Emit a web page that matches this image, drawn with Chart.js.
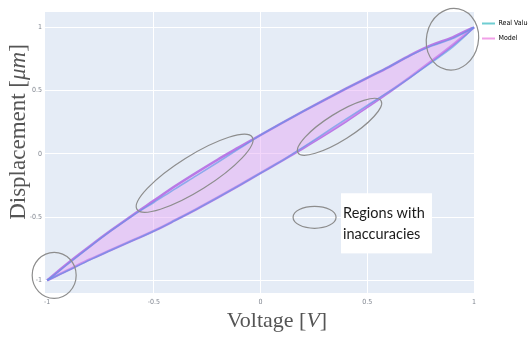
<!DOCTYPE html>
<html lang="en">

<head>
    <meta charset="UTF-8">
    <script src="https://cdn.jsdelivr.net/npm/chart.js"></script>
    <title>Voltage / Displacement</title>
    <style>
        body { margin: 0; background: #fff; overflow: hidden; }
    </style>
</head>

<body>
    <canvas id="histerese" width="528" height="342"></canvas>
</body>

</html>
<script>
    // sampled voltage and the two branches of the loop (rising = lower, falling = upper)
    const voltage = [-1, -0.95, -0.9, -0.8, -0.7, -0.6, -0.5, -0.4, -0.3, -0.2, -0.1, 0, 0.1, 0.2, 0.3, 0.4, 0.5, 0.6, 0.7, 0.8, 0.9, 0.95, 1];
    const realLower = [-1, -0.96, -0.92, -0.838, -0.76, -0.685, -0.61, -0.525, -0.437, -0.345, -0.25, -0.152, -0.055, 0.053, 0.163, 0.273, 0.382, 0.488, 0.602, 0.72, 0.842, 0.916, 1];
    const realUpper = [-1, -0.935, -0.868, -0.735, -0.608, -0.49, -0.385, -0.277, -0.173, -0.067, 0.04, 0.148, 0.243, 0.336, 0.426, 0.514, 0.6, 0.685, 0.775, 0.85, 0.91, 0.952, 1];
    const modelLower = [-1, -0.958, -0.918, -0.835, -0.76, -0.685, -0.61, -0.525, -0.437, -0.345, -0.25, -0.152, -0.055, 0.045, 0.148, 0.255, 0.37, 0.485, 0.605, 0.73, 0.86, 0.928, 1];
    const modelUpper = [-1, -0.93, -0.86, -0.73, -0.605, -0.485, -0.37, -0.255, -0.148, -0.045, 0.052, 0.148, 0.243, 0.336, 0.426, 0.514, 0.6, 0.685, 0.778, 0.858, 0.92, 0.96, 1];
    const xTicks = [-1, -0.5, 0, 0.5, 1];
    const yTicks = [-1, -0.5, 0, 0.5, 1];

    const corReal = 'rgba(95,150,230,0.65)';
    const corModelo = 'rgba(180,110,228,0.9)';

    // circled regions (centre in data units, radii in px)
    const regioes = [
        { x: 0.899, y: 0.905, rx: 26, ry: 31, rot: 0.2 },
        { x: -0.967, y: -0.96, rx: 22, ry: 23, rot: 0 },
        { x: -0.309, y: -0.154, rx: 68, ry: 17.5, rot: -0.56 },
        { x: 0.37, y: 0.213, rx: 49, ry: 13.5, rot: -0.56 },
        { x: 0.253, y: -0.502, rx: 21.5, ry: 11, rot: 0 }
    ];

    function pontos(ys) {
        return voltage.map((v, i) => ({ x: v, y: ys[i] }));
    }

    function textoMisto(ctx, partes, x, y) {
        let total = 0;
        partes.forEach(p => { ctx.font = p.font; total += ctx.measureText(p.t).width; });
        let cx = x - total / 2;
        partes.forEach(p => {
            ctx.font = p.font;
            ctx.fillText(p.t, cx, y);
            cx += ctx.measureText(p.t).width;
        });
    }

    const fundo = {
        id: 'fundo',
        beforeDraw(chart) {
            const { ctx, chartArea: a } = chart;
            ctx.save();
            ctx.fillStyle = '#e5ecf6';
            ctx.fillRect(a.left, a.top, a.right - a.left, a.bottom - a.top);
            ctx.restore();
        }
    };

    const anotacoes = {
        id: 'anotacoes',
        afterDraw(chart) {
            const { ctx } = chart;
            const sx = chart.scales.x, sy = chart.scales.y;
            ctx.save();
            ctx.strokeStyle = '#8d8d8d';
            ctx.lineWidth = 1.2;
            regioes.forEach(r => {
                ctx.beginPath();
                ctx.ellipse(sx.getPixelForValue(r.x), sy.getPixelForValue(r.y), r.rx, r.ry, r.rot, 0, Math.PI * 2);
                ctx.stroke();
            });

            // caixa de texto
            const l = sx.getPixelForValue(0.377), rgt = sx.getPixelForValue(0.803);
            const t = sy.getPixelForValue(-0.312), b = sy.getPixelForValue(-0.787);
            ctx.fillStyle = '#fff';
            ctx.fillRect(l, t, rgt - l, b - t);
            ctx.fillStyle = '#1a1a1a';
            ctx.font = '14.5px Lato, "Open Sans", sans-serif';
            ctx.textBaseline = 'alphabetic';
            ctx.fillText('Regions with', l + 2, t + 25);
            ctx.fillText('inaccuracies', l + 2, t + 46);

            // titulos dos eixos
            ctx.fillStyle = '#555';
            const serif = '"Liberation Serif", "DejaVu Serif", serif';
            textoMisto(ctx, [
                { t: 'Voltage [', font: `22px ${serif}` },
                { t: 'V', font: `italic 22px ${serif}` },
                { t: ']', font: `22px ${serif}` }
            ], 277, 327);
            ctx.translate(25, 132);
            ctx.rotate(-Math.PI / 2);
            textoMisto(ctx, [
                { t: 'Displacement [', font: `23px ${serif}` },
                { t: 'μm', font: `italic 23px ${serif}` },
                { t: ']', font: `23px ${serif}` }
            ], 0, 0);
            ctx.restore();
        }
    };

    Chart.defaults.font.family = '"Liberation Sans Narrow", "DejaVu Sans Condensed", "Roboto Condensed", sans-serif';

    const grafico = document.getElementById('histerese');
    new Chart(grafico, {
        type: 'line',
        data: {
            datasets: [{
                label: 'Real Values',
                data: pontos(realUpper),
                borderColor: corReal,
                borderWidth: 1.5
            }, {
                label: 'Real Values',
                data: pontos(realLower),
                borderColor: corReal,
                borderWidth: 1.5
            }, {
                label: 'Model',
                data: pontos(modelUpper),
                borderColor: corModelo,
                borderWidth: 2.5,
                fill: '+1',
                backgroundColor: 'rgba(228,165,245,0.45)'
            }, {
                label: 'Model',
                data: pontos(modelLower),
                borderColor: corModelo,
                borderWidth: 2.5
            }]
        },
        options: {
            responsive: false,
            animation: false,
            layout: { padding: { top: 12, right: 0, left: 0, bottom: 0 } },
            elements: {
                point: { radius: 0 },
                line: { cubicInterpolationMode: 'monotone', fill: false }
            },
            datasets: { line: { clip: 4 } },
            plugins: {
                tooltip: { enabled: false },
                legend: {
                    position: 'right',
                    align: 'start',
                    maxWidth: 54,
                    labels: {
                        boxWidth: 13,
                        boxHeight: 2,
                        padding: 8,
                        color: '#555',
                        font: { size: 7 },
                        generateLabels() {
                            return [
                                { text: 'Real Values', fillStyle: 'rgba(95,200,205,0.9)', strokeStyle: 'transparent', lineWidth: 0 },
                                { text: 'Model', fillStyle: 'rgba(240,150,230,0.9)', strokeStyle: 'transparent', lineWidth: 0 }
                            ];
                        }
                    }
                }
            },
            scales: {
                x: {
                    type: 'linear',
                    min: -1.01,
                    max: 1,
                    afterBuildTicks: s => { s.ticks = xTicks.map(v => ({ value: v })); },
                    afterFit: s => { s.height = 49; },
                    border: { display: false },
                    grid: {
                        color: c => (c.tick && Math.abs(c.tick.value) === 1) ? 'transparent' : '#ffffff',
                        drawTicks: false
                    },
                    ticks: { color: '#808690', font: { size: 7 }, padding: 5, maxRotation: 0, callback: v => String(v) }
                },
                y: {
                    type: 'linear',
                    min: -1.1,
                    max: 1.12,
                    afterBuildTicks: s => { s.ticks = yTicks.map(v => ({ value: v })); },
                    afterFit: s => { s.width = 45; },
                    border: { display: false },
                    grid: { color: '#ffffff', drawTicks: false },
                    ticks: { color: '#808690', font: { size: 7 }, padding: 3, callback: v => String(v) }
                }
            }
        },
        plugins: [fundo, anotacoes]
    });
</script>
